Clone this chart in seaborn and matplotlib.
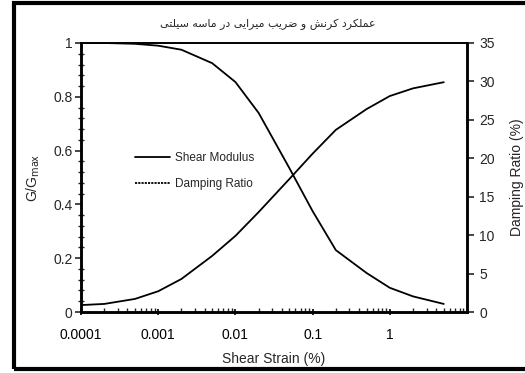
import matplotlib
matplotlib.use("Agg")
import matplotlib.pyplot as plt
from matplotlib.lines import Line2D
from matplotlib.patches import Rectangle
from matplotlib.ticker import FixedLocator, LogLocator, NullFormatter, FixedFormatter
import seaborn as sns
import pandas as pd
import numpy as np

# Shear strain levels (%) and measured responses
strain = [0.0001, 0.0002, 0.0005, 0.001, 0.002, 0.005, 0.01, 0.02,
          0.05, 0.1, 0.2, 0.5, 1, 2, 5]
g_ratio = [1.0, 1.0, 0.997, 0.99, 0.975, 0.925, 0.855, 0.74,
           0.535, 0.375, 0.23, 0.145, 0.09, 0.058, 0.03]
damping = [0.9, 1.05, 1.7, 2.7, 4.3, 7.3, 9.9, 13.0,
           17.3, 20.6, 23.7, 26.4, 28.1, 29.1, 29.9]

x_ticks = [0.0001, 0.001, 0.01, 0.1, 1]
x_tick_labels = ["0.0001", "0.001", "0.01", "0.1", "1"]
left_ticks = [0, 0.2, 0.4, 0.6, 0.8, 1]
left_tick_labels = ["0", "0.2", "0.4", "0.6", "0.8", "1"]
right_ticks = [0, 5, 10, 15, 20, 25, 30, 35]

title_text = "عملکرد کرنش و ضریب میرایی در ماسه سیلتی"

# Contextual forms (isolated, final, initial, medial) for the Persian letters used
FORMS = {
    "ا": (0xFE8D, 0xFE8E), "د": (0xFEA9, 0xFEAA), "ر": (0xFEAD, 0xFEAE),
    "و": (0xFEED, 0xFEEE),
    "ب": (0xFE8F, 0xFE90, 0xFE91, 0xFE92), "ت": (0xFE95, 0xFE96, 0xFE97, 0xFE98),
    "س": (0xFEB1, 0xFEB2, 0xFEB3, 0xFEB4), "ش": (0xFEB5, 0xFEB6, 0xFEB7, 0xFEB8),
    "ض": (0xFEBD, 0xFEBE, 0xFEBF, 0xFEC0), "ع": (0xFEC9, 0xFECA, 0xFECB, 0xFECC),
    "ل": (0xFEDD, 0xFEDE, 0xFEDF, 0xFEE0), "م": (0xFEE1, 0xFEE2, 0xFEE3, 0xFEE4),
    "ن": (0xFEE5, 0xFEE6, 0xFEE7, 0xFEE8), "ه": (0xFEE9, 0xFEEA, 0xFEEB, 0xFEEC),
    "ک": (0xFB8E, 0xFB8F, 0xFB90, 0xFB91), "ی": (0xFBFC, 0xFBFD, 0xFBFE, 0xFBFF),
}


def shape_arabic(text):
    """Join Persian letters into contextual forms and return in visual order."""
    out = []
    n = len(text)
    for i, ch in enumerate(text):
        f = FORMS.get(ch)
        if f is None:
            out.append(ch)
            continue
        prev = text[i - 1] if i > 0 else None
        nxt = text[i + 1] if i < n - 1 else None
        join_prev = prev in FORMS and len(FORMS[prev]) == 4
        join_next = len(f) == 4 and nxt in FORMS
        if join_prev and join_next:
            code = f[3]
        elif join_prev:
            code = f[1]
        elif join_next:
            code = f[2]
        else:
            code = f[0]
        out.append(chr(code))
    return "".join(reversed(out))


sns.set_style("ticks")
plt.rcParams["font.family"] = ["Liberation Sans", "DejaVu Sans"]

df = pd.DataFrame({"strain": strain, "g": g_ratio, "d": damping})

fig = plt.figure(figsize=(5.25, 3.73), dpi=100)
ax = fig.add_axes([81 / 525, 1 - 312 / 373, (467 - 81) / 525, (312 - 43) / 373])
ax2 = ax.twinx()

sns.lineplot(data=df, x="strain", y="g", ax=ax, color="black", lw=1.3)
sns.lineplot(data=df, x="strain", y="d", ax=ax2, color="black", lw=1.3)

ax.set_xscale("log")
ax.set_xlim(0.0001, 10)
ax.set_ylim(0, 1)
ax2.set_ylim(0, 35)

ax.xaxis.set_major_locator(FixedLocator(x_ticks))
ax.xaxis.set_major_formatter(FixedFormatter(x_tick_labels))
ax.xaxis.set_minor_locator(LogLocator(base=10, subs=np.arange(2, 10), numticks=20))
ax.xaxis.set_minor_formatter(NullFormatter())

ax.yaxis.set_major_locator(FixedLocator(left_ticks))
ax.yaxis.set_major_formatter(FixedFormatter(left_tick_labels))
ax.yaxis.set_minor_locator(FixedLocator(np.arange(0, 1.001, 0.04)))
ax2.yaxis.set_major_locator(FixedLocator(right_ticks))

ax.tick_params(axis="x", which="major", direction="inout", length=5, width=1.2,
               labelsize=10, pad=9, colors="black")
ax.tick_params(axis="x", which="minor", direction="in", length=3, width=1.0)
ax.tick_params(axis="y", which="major", direction="out", length=4, width=1.2,
               labelsize=10, pad=2)
ax.tick_params(axis="y", which="minor", direction="inout", length=4, width=1.0)
ax2.tick_params(axis="y", which="major", direction="out", length=5, width=1.2,
                labelsize=10, pad=4)
ax2.tick_params(axis="y", which="minor", length=0)
ax2.tick_params(axis="x", which="both", length=0)

for a in (ax, ax2):
    for side in ("left", "bottom", "right"):
        a.spines[side].set_linewidth(1.8)
        a.spines[side].set_color("black")
    a.spines["top"].set_linewidth(1.2)
    a.spines["top"].set_color("black")

ax.set_xlabel("Shear Strain (%)", fontsize=10, labelpad=7)
ax.set_ylabel(r"G/G$_{\mathrm{max}}$", fontsize=10, labelpad=8)
ax2.set_ylabel("Damping Ratio (%)", fontsize=10, labelpad=11)

handles = [
    Line2D([], [], color="black", lw=1.3),
    Line2D([], [], color="black", lw=1.3, linestyle=(0, (1.2, 0.6))),
]
ax.legend(handles, ["Shear Modulus", "Damping Ratio"], loc="upper left",
          bbox_to_anchor=((130 - 81) / 386, (312 - 147) / 269), frameon=False,
          fontsize=8.5, handlelength=3.0, handletextpad=0.4, labelspacing=1.25,
          borderaxespad=0)

fig.text(268 / 525, 1 - 24 / 373, shape_arabic(title_text), ha="center",
         va="center", fontsize=7.9, family=["DejaVu Sans"])

# Outer frame around the figure
fig.patches.append(Rectangle((14 / 525, 4 / 373), 1.2, 366 / 373,
                             transform=fig.transFigure, fill=False,
                             edgecolor="black", lw=3, clip_on=False))

fig.savefig("out.png", dpi=100, facecolor="white")
